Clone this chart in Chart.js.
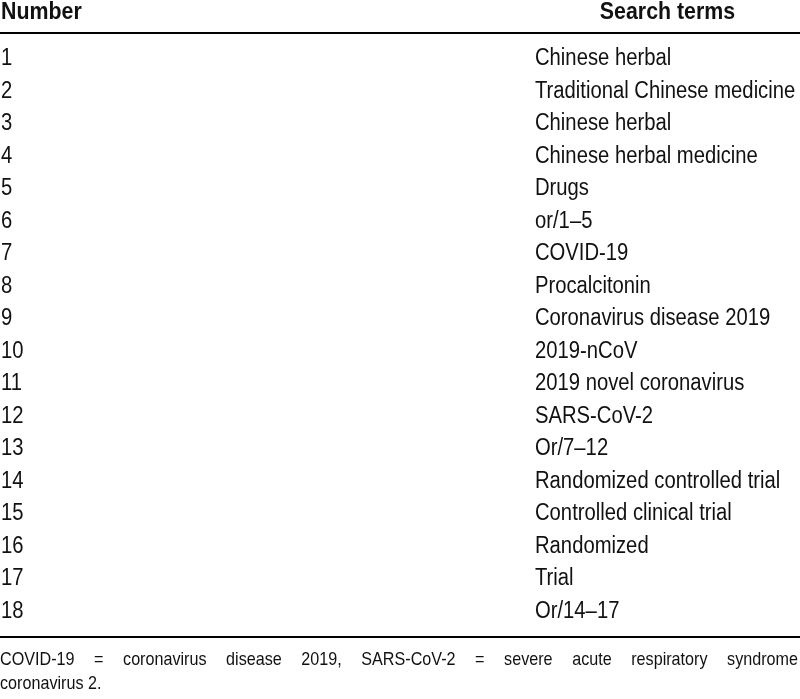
<!DOCTYPE html>
<html>
<head>
<meta charset="utf-8">
<script src="https://cdn.jsdelivr.net/npm/chart.js@4"></script>
<style>
  html, body { margin: 0; padding: 0; background: #ffffff; }
  #wrap { width: 800px; height: 699px; }
</style>
</head>
<body>
<div id="wrap"><canvas id="c" width="800" height="699"></canvas></div>
<script>
// ---- table content ----
const headers = ['Number', 'Search terms'];
const numbers = ['1','2','3','4','5','6','7','8','9','10','11','12','13','14','15','16','17','18'];
const searchTerms = [
  'Chinese herbal',
  'Traditional Chinese medicine',
  'Chinese herbal',
  'Chinese herbal medicine',
  'Drugs',
  'or/1\u20135',
  'COVID-19',
  'Procalcitonin',
  'Coronavirus disease 2019',
  '2019-nCoV',
  '2019 novel coronavirus',
  'SARS-CoV-2',
  'Or/7\u201312',
  'Randomized controlled trial',
  'Controlled clinical trial',
  'Randomized',
  'Trial',
  'Or/14\u201317'
];
const footnoteLines = [
  'COVID-19 = coronavirus disease 2019, SARS-CoV-2 = severe acute respiratory syndrome',
  'coronavirus 2.'
];

const FAMILY = "'Liberation Sans', Arial, sans-serif";
const INK = '#111111';
const BODY = { size: 23, squeeze: 0.88 };
const HEAD = { size: 24, squeeze: 0.89 };
const NOTE = { size: 19, squeeze: 0.85 };

// draws text horizontally condensed (imitating a condensed face)
function condensedText(ctx, text, x, y, squeeze, align) {
  const w = ctx.measureText(text).width * squeeze;
  let x0 = x;
  if (align === 'center') x0 = x - w / 2;
  else if (align === 'right') x0 = x - w;
  ctx.save();
  ctx.translate(x0, y);
  ctx.scale(squeeze, 1);
  ctx.textAlign = 'left';
  ctx.fillText(text, 0, 0);
  ctx.restore();
  return w;
}

const tablePlugin = {
  id: 'tableDecor',
  afterDraw(chart) {
    const ctx = chart.ctx;
    const area = chart.chartArea;
    const yNum = chart.scales.y;
    const yTerm = chart.scales.y2;
    ctx.save();
    ctx.fillStyle = INK;
    ctx.textBaseline = 'alphabetic';

    // header row
    ctx.font = 'bold ' + HEAD.size + 'px ' + FAMILY;
    condensedText(ctx, headers[0], yNum.left, area.top - 22, HEAD.squeeze, 'left');
    condensedText(ctx, headers[1], (yTerm.left + yTerm.right) / 2, area.top - 22, HEAD.squeeze, 'center');

    // body cells, placed by the category scales
    ctx.font = BODY.size + 'px ' + FAMILY;
    const capHalf = BODY.size * 0.358;
    numbers.forEach((n, i) => {
      const y = yNum.getPixelForValue(i) + capHalf;
      condensedText(ctx, n, yNum.left, y, BODY.squeeze, 'left');
    });
    searchTerms.forEach((t, i) => {
      const y = yTerm.getPixelForValue(i) + capHalf;
      condensedText(ctx, t, yTerm.left, y, BODY.squeeze, 'left');
    });

    // rules
    ctx.fillStyle = '#000';
    ctx.fillRect(0, area.top - 9, chart.width, 2);
    ctx.fillRect(0, area.bottom + 10, chart.width, 2);

    // footnote (first line justified)
    ctx.fillStyle = INK;
    ctx.font = NOTE.size + 'px ' + FAMILY;
    const words = footnoteLines[0].split(' ');
    const widths = words.map(w => ctx.measureText(w).width * NOTE.squeeze);
    const total = widths.reduce((a, b) => a + b, 0);
    const lineW = chart.width - 2;
    const gap = (lineW - total) / (words.length - 1);
    let x = 0;
    const b1 = area.bottom + 39;
    words.forEach((w, i) => { condensedText(ctx, w, x, b1, NOTE.squeeze, 'left'); x += widths[i] + gap; });
    condensedText(ctx, footnoteLines[1], 0, b1 + 24, NOTE.squeeze, 'left');
    ctx.restore();
  }
};

new Chart(document.getElementById('c'), {
  type: 'line',
  data: { datasets: [] },
  plugins: [tablePlugin],
  options: {
    responsive: false,
    devicePixelRatio: 1,
    animation: false,
    layout: { padding: { top: 41, bottom: 73, left: 1, right: 0 } },
    plugins: { legend: { display: false }, tooltip: { enabled: false }, title: { display: false } },
    scales: {
      x: { type: 'linear', display: false, min: 0, max: 1 },
      y: {
        type: 'category',
        labels: numbers,
        position: 'left',
        offset: true,
        grid: { display: false, drawTicks: false },
        border: { display: false },
        afterFit(scale) { scale.width = 30; },
        ticks: { display: false, autoSkip: false }
      },
      y2: {
        type: 'category',
        labels: searchTerms,
        position: 'right',
        offset: true,
        grid: { display: false, drawTicks: false },
        border: { display: false },
        afterFit(scale) { scale.width = 265; },
        ticks: { display: false, autoSkip: false }
      }
    }
  }
});
</script>
</body>
</html>
